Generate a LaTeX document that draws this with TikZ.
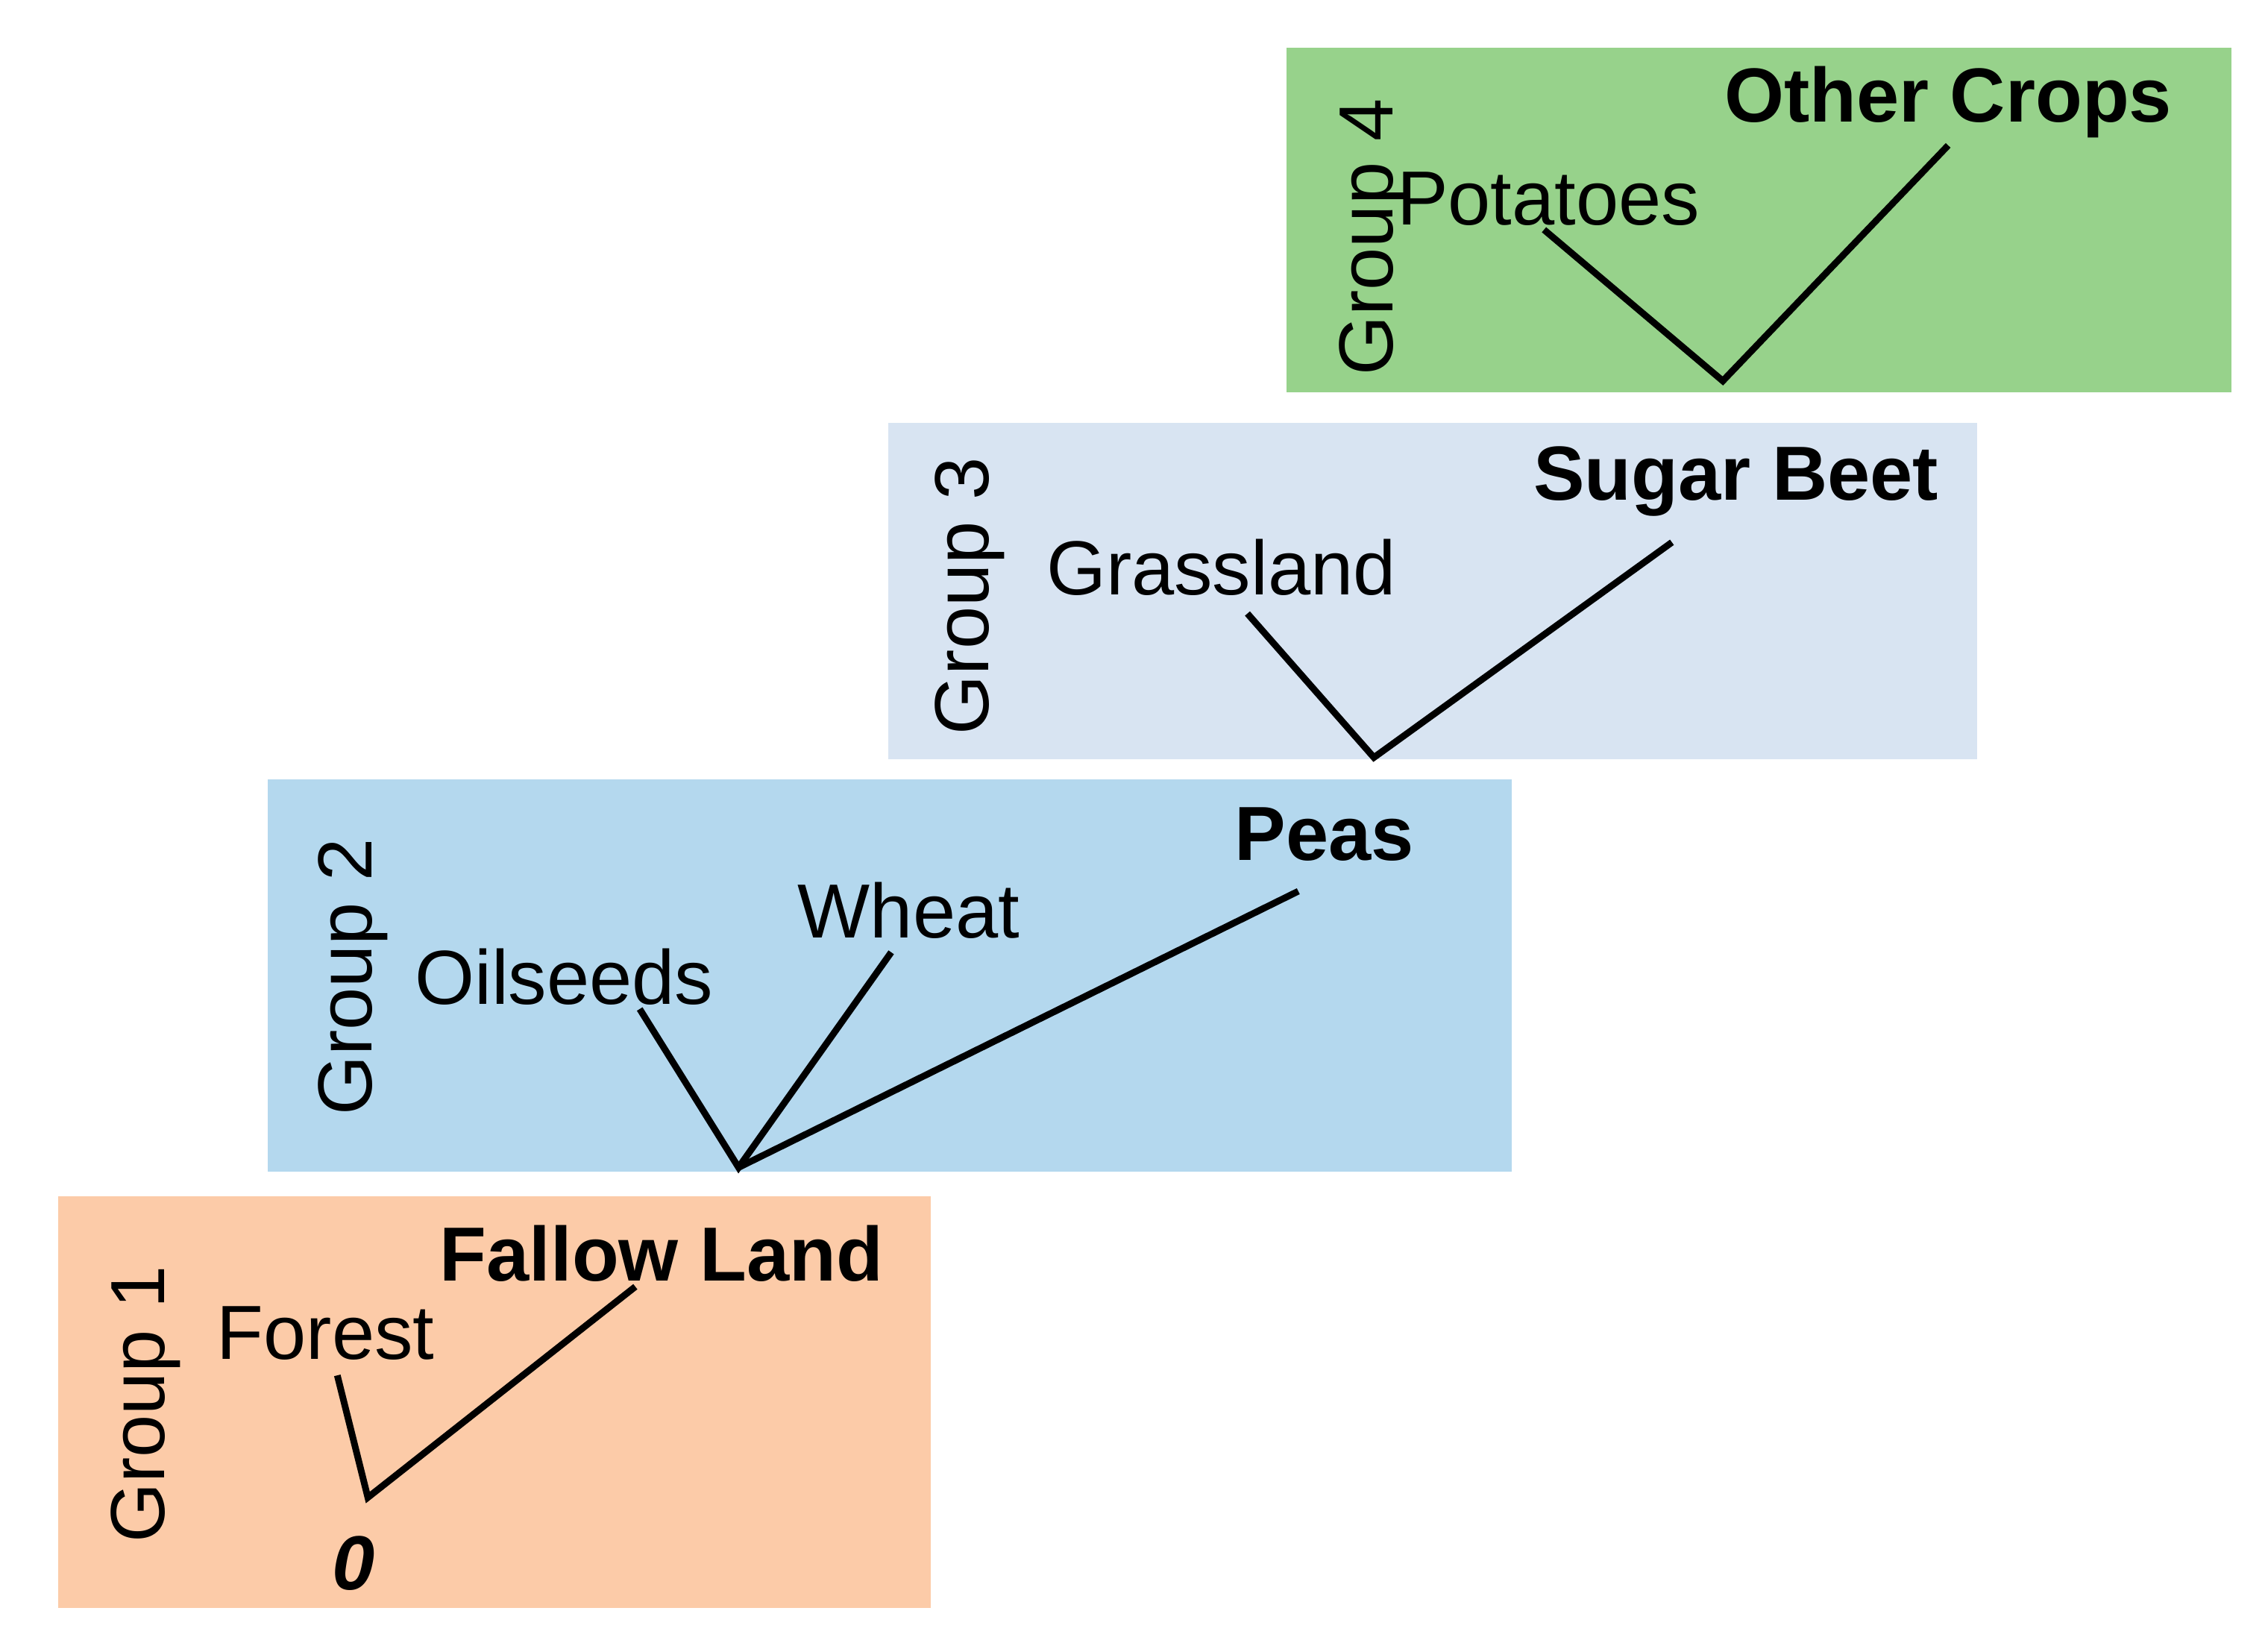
\documentclass[tikz,border=0pt]{standalone}
\usepackage{fontspec}
\setmainfont{Liberation Sans}
\begin{document}
\begin{tikzpicture}[x=0.01cm,y=-0.01cm,
  lab/.style={font=\fontsize{15}{17}\selectfont,inner sep=0pt},
  blab/.style={lab,font=\fontsize{15}{17}\selectfont\bfseries},
  grp/.style={lab,rotate=90},
  ln/.style={line width=1.3pt,line join=miter}]
\definecolor{cg}{RGB}{151,210,139}
\definecolor{cl}{RGB}{216,228,242}
\definecolor{cb}{RGB}{180,216,238}
\definecolor{co}{RGB}{252,203,168}
\useasboundingbox (0,0) rectangle (1560,1132);
\fill[cg] (885,33) rectangle (1535,270);
\fill[cl] (611,291) rectangle (1360,522);
\fill[cb] (184,536) rectangle (1040,806);
\fill[co] (40,823) rectangle (640,1106);
% group 4
\node[grp] (g4) at (945,163) {Group 4};
\node[lab] (pot) at (1065,137) {Potatoes};
\node[blab] (oc) at (1340,70) {Other Crops};
\coordinate (p4) at (1185,262);
\coordinate (a4) at (1062,158);
\coordinate (b4) at (1340,100);
\draw[ln] (a4) -- (p4) -- (b4);
% group 3
\node[grp] (g3) at (667,410) {Group 3};
\node[lab] (gr) at (840,390) {Grassland};
\node[blab] (sb) at (1194,331) {Sugar Beet};
\coordinate (p3) at (945,521);
\coordinate (a3) at (858,422);
\coordinate (b3) at (1150,373);
\draw[ln] (a3) -- (p3) -- (b3);
% group 2
\node[grp] (g2) at (243,672) {Group 2};
\node[lab] (oil) at (388,672) {Oilseeds};
\node[lab] (wh) at (625,626) {Wheat};
\node[blab] (pe) at (911,574) {Peas};
\coordinate (p2) at (508,803);
\coordinate (a2) at (440,694);
\coordinate (b2) at (613,655);
\coordinate (c2) at (893,613);
\draw[ln] (a2) -- (p2) -- (b2);
\draw[ln] (p2) -- (c2);
% group 1
\node[grp] (g1) at (100,966) {Group 1};
\node[lab] (fo) at (224,917) {Forest};
\node[blab] (fl) at (455,862) {Fallow Land};
\node[blab,font=\fontsize{15}{17}\selectfont\bfseries\itshape] (z) at (243,1075) {0};
\coordinate (p1) at (253,1030);
\coordinate (a1) at (232,946);
\coordinate (b1) at (437,885);
\draw[ln] (a1) -- (p1) -- (b1);
\end{tikzpicture}
\end{document}
